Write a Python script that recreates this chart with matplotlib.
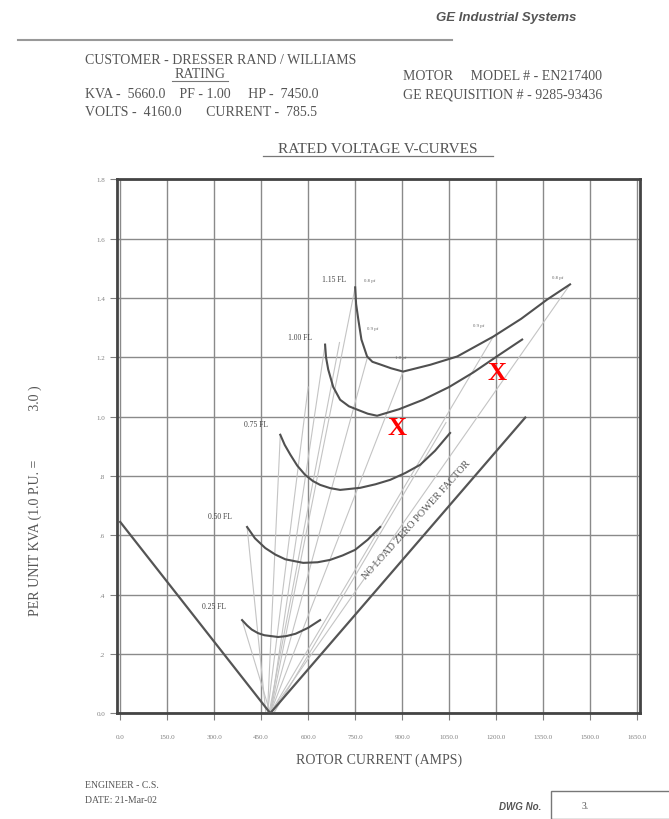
import matplotlib.pyplot as plt
from matplotlib.patches import Rectangle

# values (rotor amps, per unit kva)
x_ticks = [0, 150, 300, 450, 600, 750, 900, 1050, 1200, 1350, 1500, 1650]
x_tick_labels = ['0.0', '150.0', '300.0', '450.0', '600.0', '750.0', '900.0',
                 '1050.0', '1200.0', '1350.0', '1500.0', '1650.0']
y_ticks = [0.0, 0.2, 0.4, 0.6, 0.8, 1.0, 1.2, 1.4, 1.6, 1.8]
y_tick_labels = ['0.0', '.2', '.4', '.6', '.8', '1.0', '1.2', '1.4', '1.6', '1.8']

fl_025_amps = [389, 405, 420, 440, 460, 504, 530, 560, 600, 638]
fl_025_kva = [0.314, 0.296, 0.282, 0.270, 0.263, 0.257, 0.260, 0.268, 0.288, 0.314]
fl_050_amps = [405, 430, 463, 495, 527, 584, 630, 670, 710, 750, 790, 830]
fl_050_kva = [0.628, 0.590, 0.557, 0.535, 0.519, 0.507, 0.509, 0.517, 0.532,
              0.551, 0.585, 0.628]
fl_075_amps = [511, 525, 543, 565, 590, 615, 638, 670, 702, 766, 815, 862, 910,
               958, 1005, 1053]
fl_075_kva = [0.939, 0.905, 0.872, 0.835, 0.804, 0.783, 0.770, 0.759, 0.753,
              0.760, 0.772, 0.787, 0.810, 0.838, 0.885, 0.945]
fl_100_amps = [654, 657, 664, 680, 702, 730, 756, 790, 820, 890, 967, 1050,
               1127, 1205, 1283]
fl_100_kva = [1.243, 1.200, 1.159, 1.100, 1.057, 1.035, 1.024, 1.010, 1.003,
              1.025, 1.057, 1.100, 1.149, 1.205, 1.260]
fl_115_amps = [750, 753, 760, 770, 788, 805, 830, 865, 903, 990, 1076, 1191,
               1280, 1363, 1436]
fl_115_kva = [1.436, 1.380, 1.328, 1.260, 1.203, 1.185, 1.176, 1.163, 1.152,
              1.175, 1.203, 1.270, 1.330, 1.395, 1.446]

zero_pf_amps = [0, 479, 1293]
zero_pf_kva = [0.645, 0.0, 0.997]

# faint constant power factor lines (start amps, start kva, end amps, end kva)
pf_line_x0 = [479, 479, 479, 479, 479, 479, 470, 465, 479, 490, 475, 470]
pf_line_y0 = [0.0, 0.0, 0.0, 0.0, 0.0, 0.0, 0.0, 0.0, 0.0, 0.0, 0.0, 0.0]
pf_line_x1 = [750, 790, 903, 1191, 1436, 654, 511, 405, 389, 1040, 700, 600]
pf_line_y1 = [1.436, 1.203, 1.152, 1.270, 1.446, 1.243, 0.939, 0.628, 0.314,
              0.98, 1.25, 1.10]

curve_labels = ['0.25 FL', '0.50 FL', '0.75 FL', '1.00 FL', '1.15 FL']
curve_label_x = [300, 318, 432, 575, 682]
curve_label_y = [0.36, 0.665, 0.975, 1.27, 1.465]

pf_labels = ['0.8 pf', '0.9 pf', '1.0 pf', '0.9 pf', '0.8 pf']
pf_label_x = [795, 805, 895, 1145, 1395]
pf_label_y = [1.46, 1.30, 1.20, 1.31, 1.47]

mark_x = [884, 1203]
mark_y = [0.963, 1.149]

serif = 'Liberation Serif'
ink = '#555555'

fig = plt.figure(figsize=(6.69, 8.2), dpi=100)
ax = fig.add_axes([0.175, 0.129, 0.782, 0.651])

ax.set_xlim(-10, 1660)
ax.set_ylim(0, 1.8)
ax.set_xticks(x_ticks)
ax.set_xticklabels(x_tick_labels)
ax.set_yticks(y_ticks)
ax.set_yticklabels(y_tick_labels)
ax.tick_params(labelsize=5, colors='#808080', length=5, width=0.8)
ax.tick_params(axis='x', pad=10)
for lab in ax.get_xticklabels() + ax.get_yticklabels():
    lab.set_family(serif)
ax.grid(True, color='#8a8a8a', linewidth=1.0)
ax.set_axisbelow(True)
for side in ['left', 'top', 'right', 'bottom']:
    ax.spines[side].set_linewidth(2.0)
    ax.spines[side].set_color('#444444')

for i in range(len(pf_line_x0)):
    ax.plot([pf_line_x0[i], pf_line_x1[i]], [pf_line_y0[i], pf_line_y1[i]],
            color='#c4c4c4', linewidth=0.8, zorder=2)

ax.plot(zero_pf_amps, zero_pf_kva, color='#555555', linewidth=1.6, zorder=3)

for xs, ys in [(fl_025_amps, fl_025_kva), (fl_050_amps, fl_050_kva),
               (fl_075_amps, fl_075_kva), (fl_100_amps, fl_100_kva),
               (fl_115_amps, fl_115_kva)]:
    ax.plot(xs, ys, color='#505050', linewidth=1.5, zorder=3)

for lab, x, y in zip(curve_labels, curve_label_x, curve_label_y):
    ax.text(x, y, lab, fontsize=5.5, family=serif, color='#444444',
            ha='center', va='center')
for lab, x, y in zip(pf_labels, pf_label_x, pf_label_y):
    ax.text(x, y, lab, fontsize=3.5, family=serif, color='#666666',
            ha='center', va='center')

ax.text(945, 0.655, 'NO LOAD ZERO POWER FACTOR', fontsize=7.5, family=serif,
        color='#555555', rotation=48, ha='center', va='center')

for x, y in zip(mark_x, mark_y):
    ax.text(x, y, 'X', fontsize=19, family=serif, fontweight='bold',
            color='#ff0000', ha='center', va='center', zorder=5)

ax.set_xlabel('ROTOR CURRENT (AMPS)', fontsize=10, family=serif,
              color=ink, labelpad=10)

# sheet text around the chart
fig.text(35 / 669, 1 - 501 / 820, 'PER UNIT KVA (1.0 P.U. =              3.0 )',
         fontsize=10, family=serif, color=ink, rotation=90,
         ha='center', va='center')
fig.text(506 / 669, 1 - 18 / 820, 'GE Industrial Systems', fontsize=9.5,
         family='Liberation Sans', style='italic', fontweight='bold',
         color=ink, ha='center', va='center')
fig.add_artist(plt.Line2D([18 / 669, 452 / 669], [1 - 41 / 820, 1 - 41 / 820],
                          color='#999999', linewidth=1.5))

fs = 10
fig.text(85 / 669, 1 - 60 / 820, 'CUSTOMER - DRESSER RAND / WILLIAMS',
         fontsize=fs, family=serif, color=ink, va='center')
fig.text(200 / 669, 1 - 75 / 820, 'RATING', fontsize=fs, family=serif,
         color=ink, va='center', ha='center')
fig.add_artist(plt.Line2D([172 / 669, 228 / 669], [1 - 82 / 820, 1 - 82 / 820],
                          color='#777777', linewidth=0.8))
fig.text(85 / 669, 1 - 95 / 820, 'KVA -  5660.0    PF - 1.00     HP -  7450.0',
         fontsize=fs, family=serif, color=ink, va='center')
fig.text(85 / 669, 1 - 113 / 820, 'VOLTS -  4160.0       CURRENT -  785.5',
         fontsize=fs, family=serif, color=ink, va='center')
fig.text(403 / 669, 1 - 76 / 820, 'MOTOR     MODEL # - EN217400',
         fontsize=fs, family=serif, color=ink, va='center')
fig.text(403 / 669, 1 - 95 / 820, 'GE REQUISITION # - 9285-93436',
         fontsize=fs, family=serif, color=ink, va='center')
fig.text(378 / 669, 1 - 150 / 820, 'RATED VOLTAGE V-CURVES', fontsize=11,
         family=serif, color=ink, ha='center', va='center')
fig.add_artist(plt.Line2D([263 / 669, 493 / 669], [1 - 157 / 820, 1 - 157 / 820],
                          color='#777777', linewidth=0.9))

fig.text(85 / 669, 1 - 786 / 820, 'ENGINEER - C.S.', fontsize=7, family=serif,
         color=ink, va='center')
fig.text(85 / 669, 1 - 801 / 820, 'DATE: 21-Mar-02', fontsize=7, family=serif,
         color=ink, va='center')
fig.text(520 / 669, 1 - 807 / 820, 'DWG No.', fontsize=7, family='Liberation Sans',
         style='italic', fontweight='bold', color=ink, ha='center',
         va='center')
fig.add_artist(Rectangle((551 / 669, 0), 0.2, (820 - 792) / 820,
                         transform=fig.transFigure, fill=False,
                         edgecolor='#777777', linewidth=1.0))
fig.text(582 / 669, 1 - 807 / 820, '3.', fontsize=7, family=serif,
         color=ink, va='center')

fig.savefig('out.png', dpi=100)
